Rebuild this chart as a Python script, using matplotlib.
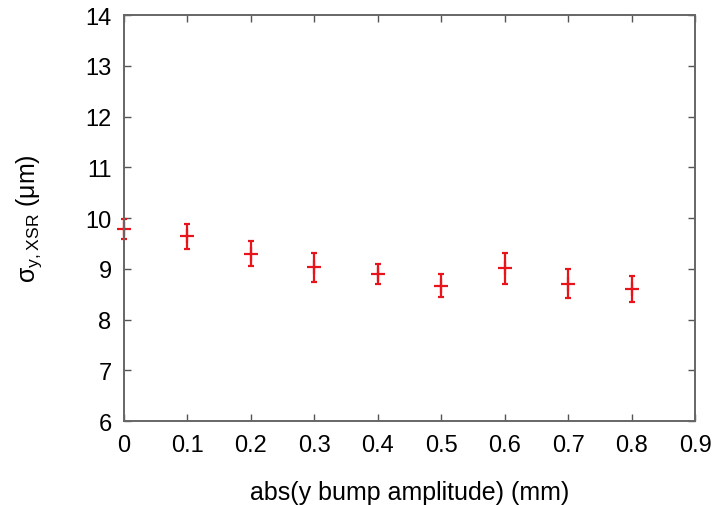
import matplotlib.pyplot as plt

plt.rcParams['font.family'] = ['Liberation Sans', 'DejaVu Sans']

# bump amplitude (mm), beam size (um) and its error
amplitude = [0.0, 0.1, 0.2, 0.3, 0.4, 0.5, 0.6, 0.7, 0.8]
sigma_y = [9.78, 9.64, 9.30, 9.03, 8.90, 8.67, 9.01, 8.71, 8.60]
sigma_err = [0.20, 0.25, 0.25, 0.28, 0.19, 0.23, 0.31, 0.29, 0.26]

xticks = [0, 0.1, 0.2, 0.3, 0.4, 0.5, 0.6, 0.7, 0.8, 0.9]
xticklabels = ['0', '0.1', '0.2', '0.3', '0.4', '0.5', '0.6', '0.7', '0.8', '0.9']
yticks = [6, 7, 8, 9, 10, 11, 12, 13, 14]

fig = plt.figure(figsize=(7.27, 5.06), dpi=100)
ax = fig.add_axes([0.1706, 0.166, 0.7854, 0.802])

eb = ax.errorbar(amplitude, sigma_y, yerr=sigma_err, fmt='+', color='#e8141c',
                 markersize=10, markeredgewidth=1.6,
                 ecolor='#e8141c', elinewidth=1.6, capsize=2.5, capthick=1.4)
for art in eb.lines[0:1] + eb.lines[1] + eb.lines[2]:
    art.set_clip_on(False)

ax.set_xlim(0, 0.9)
ax.set_ylim(6, 14)
ax.set_xticks(xticks)
ax.set_xticklabels(xticklabels)
ax.set_yticks(yticks)

ax.tick_params(direction='in', top=True, right=True, length=5, width=1,
               color='#555555', labelsize=17, pad=9)
for s in ax.spines.values():
    s.set_color('#666666')
    s.set_linewidth(1.4)

ax.set_xlabel('abs(y bump amplitude) (mm)', fontsize=18)
ax.set_ylabel(r'$\mathregular{\sigma_{y,XSR}}$ ($\mathregular{\mu}$m)', fontsize=18)
ax.xaxis.set_label_coords(0.5, -0.145)
ax.yaxis.set_label_coords(-0.14, 0.5)

fig.savefig('out.png', dpi=100)
